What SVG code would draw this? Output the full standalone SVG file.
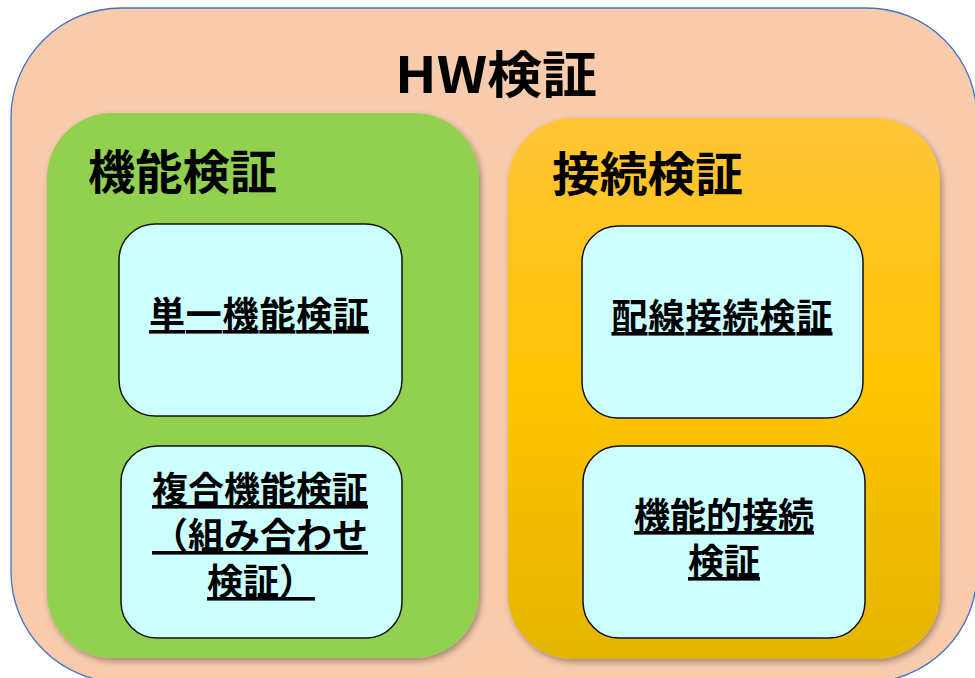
<svg xmlns="http://www.w3.org/2000/svg" width="975" height="678" viewBox="0 0 975 678">
  <defs>
    <linearGradient id="orangeGrad" x1="0" y1="0" x2="0" y2="1">
      <stop offset="0" stop-color="#FFC638"/>
      <stop offset="0.5" stop-color="#FFC400"/>
      <stop offset="1" stop-color="#E4B500"/>
    </linearGradient>
    <filter id="shadow" x="-10%" y="-10%" width="120%" height="120%">
      <feDropShadow dx="2" dy="3" stdDeviation="3" flood-color="#000" flood-opacity="0.35"/>
    </filter>
  </defs>
  <style>
    .outer { fill: #F8CBAD; stroke: #4472C4; stroke-width: 1.3; }
    .inner { fill: #CCFFFF; stroke: #111; stroke-width: 1.5; }
    .title { font-family: "Noto Sans CJK JP", "Liberation Sans", sans-serif; fill: #000; }
    .lbl { font-family: "Noto Sans CJK JP", "Liberation Sans", sans-serif; font-size: 36px; font-weight: 700; fill: #000; text-decoration: underline; text-anchor: middle; }
  </style>
  <rect width="975" height="678" fill="#FFFFFF"/>
  <g id="hw">
    <rect class="outer" x="11" y="8" width="966" height="674" rx="110" ry="110"/>
    <text class="title" x="496" y="93" font-size="50" font-weight="700" text-anchor="middle" textLength="202" lengthAdjust="spacingAndGlyphs">HW検証</text>
  </g>
  <g id="kinou">
    <rect x="47" y="113" width="432" height="545" rx="65" ry="65" fill="#92D050" filter="url(#shadow)"/>
    <text class="title" x="88" y="189" font-size="47" font-weight="700" textLength="189" lengthAdjust="spacingAndGlyphs">機能検証</text>
  </g>
  <g id="setsuzoku">
    <rect x="508" y="118" width="432" height="541" rx="65" ry="65" fill="url(#orangeGrad)" filter="url(#shadow)"/>
    <text class="title" x="552" y="191" font-size="47" font-weight="700" textLength="191" lengthAdjust="spacingAndGlyphs">接続検証</text>
  </g>
  <g id="tanitsu">
    <rect class="inner" x="119" y="224" width="283" height="192" rx="36" ry="36"/>
    <text class="lbl" x="259" y="328" textLength="220">単一機能検証</text>
  </g>
  <g id="fukugou">
    <rect class="inner" x="121" y="446" width="281" height="192" rx="36" ry="36"/>
    <text class="lbl"><tspan x="260" y="503">複合機能検証</tspan><tspan x="260" y="549">（組み合わせ</tspan><tspan x="261" y="595">検証）</tspan></text>
  </g>
  <g id="haisen">
    <rect class="inner" x="582" y="226" width="281" height="192" rx="36" ry="36"/>
    <text class="lbl" x="722" y="330" textLength="221">配線接続検証</text>
  </g>
  <g id="kinouteki">
    <rect class="inner" x="583" y="446" width="282" height="192" rx="36" ry="36"/>
    <text class="lbl"><tspan x="724" y="529">機能的接続</tspan><tspan x="724" y="575">検証</tspan></text>
  </g>
  <g id="connectors"/>
</svg>
